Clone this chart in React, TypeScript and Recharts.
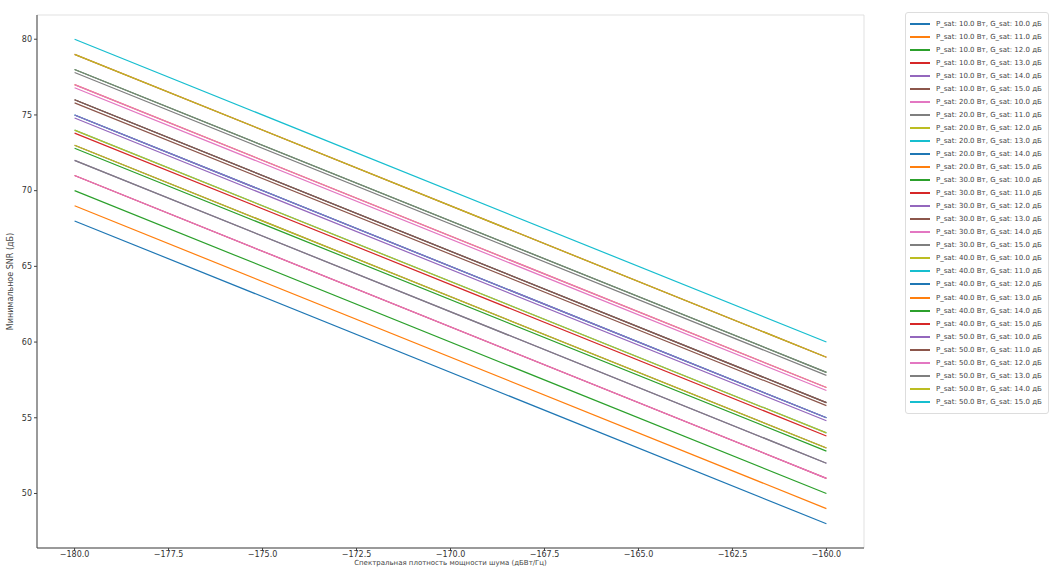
import { CartesianGrid, Line, LineChart, XAxis, YAxis, Label } from "recharts";

// noise density axis (dBW/Hz)
const xPoints = [-180, -160];
const xTicks = [-180, -177.5, -175, -172.5, -170, -167.5, -165, -162.5, -160];
const yTicks = [50, 55, 60, 65, 70, 75, 80];

const pSat = [10, 20, 30, 40, 50];
const gSat = [10, 11, 12, 13, 14, 15];

// SNR at x = -180, one row per P_sat, one entry per G_sat
const snrStart = [
  [68, 69, 70, 71, 72, 73],
  [71, 72, 73, 74, 75, 76],
  [72.8, 73.8, 74.8, 75.8, 76.8, 77.8],
  [74, 75, 76, 77, 78, 79],
  [75, 76, 77, 78, 79, 80],
];

// SNR at x = -160
const snrEnd = [
  [48, 49, 50, 51, 52, 53],
  [51, 52, 53, 54, 55, 56],
  [52.8, 53.8, 54.8, 55.8, 56.8, 57.8],
  [54, 55, 56, 57, 58, 59],
  [55, 56, 57, 58, 59, 60],
];

const tab10 = [
  "#1f77b4", "#ff7f0e", "#2ca02c", "#d62728", "#9467bd",
  "#8c564b", "#e377c2", "#7f7f7f", "#bcbd22", "#17becf",
];

const series = pSat.flatMap((p, i) =>
  gSat.map((g, j) => ({
    key: `s${i}_${j}`,
    name: `P_sat: ${p.toFixed(1)} Вт, G_sat: ${g.toFixed(1)} дБ`,
    start: snrStart[i][j],
    end: snrEnd[i][j],
  }))
);

const chartData = xPoints.map((x, k) => {
  const row: Record<string, number> = { x };
  series.forEach(s => {
    row[s.key] = k === 0 ? s.start : s.end;
  });
  return row;
});

const fmt = (v: number) => (v < 0 ? `\u2212${Math.abs(v).toFixed(1)}` : v.toFixed(1));
const tickStyle = { fill: "#333", fontSize: 8, fontFamily: "DejaVu Sans" };

const ChartLegend = () => (
  <div
    style={{
      position: "absolute",
      left: 905,
      top: 12,
      width: 144,
      padding: "4px 0 5px 4px",
      border: "1px solid #ddd",
      borderRadius: 3,
      background: "#fff",
      fontFamily: "DejaVu Sans",
      fontSize: 7,
      color: "#444",
      boxSizing: "border-box",
    }}
  >
    {series.map((s, i) => (
      <div key={s.key} style={{ display: "flex", alignItems: "center", height: 13.05 }}>
        <div style={{ width: 20, height: 2, background: tab10[i % 10], marginRight: 6 }} />
        <span style={{ whiteSpace: "nowrap" }}>{s.name}</span>
      </div>
    ))}
  </div>
);

export default function App() {
  return (
    <div style={{ position: "absolute", left: 0, top: 0, width: 1053, height: 568, background: "#fff", overflow: "hidden" }}>
      <LineChart
        width={1053}
        height={568}
        data={chartData}
        margin={{ top: 15, right: 189, left: 0, bottom: 0 }}
      >
        <CartesianGrid stroke="#d9d9d9" strokeWidth={0.8} horizontal vertical />
        <XAxis
          xAxisId="b"
          dataKey="x"
          type="number"
          domain={[-181, -159]}
          ticks={xTicks}
          tickFormatter={fmt}
          tick={{ ...tickStyle, dy: -2 }}
          tickSize={3}
          height={20}
          stroke="#444"
          interval={0}
        >
          <Label
            value="Спектральная плотность мощности шума (дБВт/Гц)"
            position="insideBottom"
            offset={3}
            style={{ fill: "#444", fontSize: 7, fontFamily: "DejaVu Sans" }}
          />
        </XAxis>
        <XAxis xAxisId="t" dataKey="x" type="number" domain={[-181, -159]} orientation="top" tick={false} tickLine={false} height={0} stroke="#444" />
        <YAxis
          yAxisId="l"
          type="number"
          domain={[46.4, 81.6]}
          ticks={yTicks}
          tick={tickStyle}
          tickSize={3}
          width={37}
          stroke="#444"
          interval={0}
        >
          <Label
            value="Минимальное SNR (дБ)"
            angle={-90}
            position="insideLeft"
            offset={10}
            style={{ fill: "#444", fontSize: 8, fontFamily: "DejaVu Sans", textAnchor: "middle" }}
          />
        </YAxis>
        <YAxis yAxisId="r" type="number" domain={[46.4, 81.6]} orientation="right" tick={false} tickLine={false} width={0} stroke="#444" />
        {series.map((s, i) => (
          <Line
            key={s.key}
            xAxisId="b"
            yAxisId="l"
            dataKey={s.key}
            name={s.name}
            stroke={tab10[i % 10]}
            strokeWidth={1.2}
            dot={false}
            type="linear"
            isAnimationActive={false}
          />
        ))}
      </LineChart>
      <ChartLegend />
    </div>
  );
}
